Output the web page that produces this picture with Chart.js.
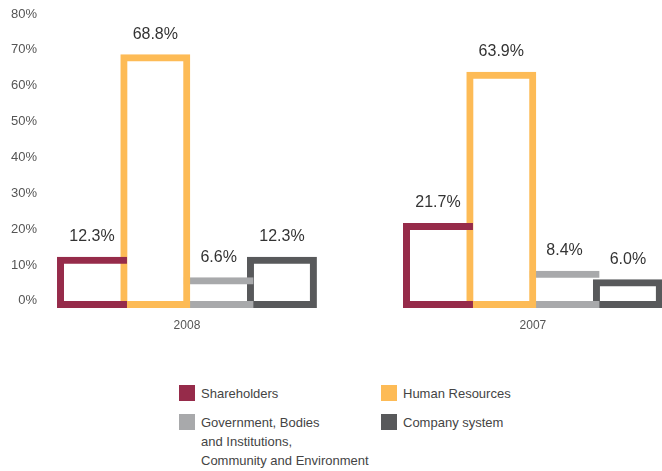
<!DOCTYPE html>
<html>
<head>
<meta charset="utf-8">
<script src="https://cdn.jsdelivr.net/npm/chart.js@4.4.1/dist/chart.umd.min.js"></script>
<style>
  html, body { margin: 0; padding: 0; background: #fff; }
  #wrap { position: relative; width: 662px; height: 471px; overflow: hidden; }
  #chart { position: absolute; left: 0; top: 0; }
  #legend {
    position: absolute; left: 179px; top: 385px;
    display: grid; grid-template-columns: 202px auto; grid-template-rows: 29px auto;
    font-family: 'Liberation Sans', Arial, sans-serif;
    font-size: 13px; line-height: 19px; color: #444;
  }
  .item { display: flex; align-items: flex-start; }
  .swatch { width: 16px; height: 16px; flex: none; }
  .text { margin-left: 6px; margin-top: -1px; white-space: pre; }
</style>
</head>
<body>
<div id="wrap">
  <canvas id="chart" width="662" height="348"></canvas>
  <div id="legend"></div>
</div>
<script>
const FONT = "'Liberation Sans', Arial, sans-serif"

// years on the x axis
const categories = ['2008', '2007']

// share of added value by recipient, in percent
const shareholders   = [12.3, 21.7]
const humanResources = [68.8, 63.9]
const government     = [6.6, 8.4]
const companySystem  = [12.3, 6.0]

const seriesNames = [
  'Shareholders',
  'Human Resources',
  'Government, Bodies\nand Institutions,\nCommunity and Environment',
  'Company system'
]

const yTicks = [0, 10, 20, 30, 40, 50, 60, 70, 80]

const colors = ['#962b4a', '#fdbb56', '#a8a9ab', '#58595b']

// bars overlap by one border width, so the hidden sides are left out
const B = 7
const sides = [
  { top: B, bottom: B, left: B, right: 0 },
  { top: B, bottom: B, left: B, right: B },
  { top: B, bottom: B, left: 0, right: 0 },
  { top: B, bottom: B, left: B, right: B },
]

const series = [shareholders, humanResources, government, companySystem]


const valueLabels = {
  id: 'valueLabels',
  afterDatasetsDraw(chart){
    const ctx = chart.ctx
    ctx.save()
    ctx.font = '16px ' + FONT
    ctx.fillStyle = '#333'
    ctx.textAlign = 'center'
    ctx.textBaseline = 'middle'
    chart.data.datasets.forEach((ds, i) => {
      chart.getDatasetMeta(i).data.forEach((bar, j) => {
        ctx.fillText(ds.data[j].y.toFixed(1) + '%', bar.x, bar.y - 20)
      })
    })
    ctx.restore()
  }
}


const chart = new Chart(document.getElementById('chart'), {
  type: 'bar',
  data: {
    datasets: series.map((vals, i) => ({
      label: seriesNames[i],
      data: vals.map((v, j) => ({ x: j, y: v })),
      borderColor: colors[i],
      backgroundColor: 'transparent',
      borderWidth: sides[i],
      borderSkipped: false,
      base: -2,
      categoryPercentage: 0.732,
      barPercentage: 1.105,
    }))
  },
  options: {
    responsive: false,
    animation: false,
    layout: { padding: { top: 14, right: 0, bottom: 0, left: 0 } },
    plugins: {
      legend: { display: false },
      tooltip: { enabled: false },
    },
    scales: {
      x: {
        type: 'linear',
        offset: false,
        min: -0.419,
        max: 1.373,
        grid: { display: false, drawTicks: false },
        border: { display: false },
        afterBuildTicks: (axis) => { axis.ticks = categories.map((c, i) => ({ value: i })) },
        afterFit: (axis) => { axis.height = 40 },
        ticks: {
          padding: 10,
          color: '#555',
          font: { family: FONT, size: 12 },
          callback: (v) => categories[v],
        }
      },
      y: {
        min: -2,
        max: 80,
        grid: { display: false, drawTicks: false },
        border: { display: false },
        afterBuildTicks: (axis) => { axis.ticks = yTicks.map(v => ({ value: v })) },
        afterFit: (axis) => { axis.width = 42 },
        ticks: {
          padding: 5,
          color: '#555',
          font: { family: FONT, size: 13 },
          callback: (v) => v + '%',
        }
      }
    }
  },
  plugins: [valueLabels]
})


// html legend built from the chart datasets
const legend = document.getElementById('legend')
chart.data.datasets.forEach((ds) => {
  const item = document.createElement('div')
  item.className = 'item'
  item.innerHTML = '<span class="swatch" style="background:' + ds.borderColor + '"></span>'
  const text = document.createElement('span')
  text.className = 'text'
  text.textContent = ds.label
  item.appendChild(text)
  legend.appendChild(item)
})
</script>
</body>
</html>
